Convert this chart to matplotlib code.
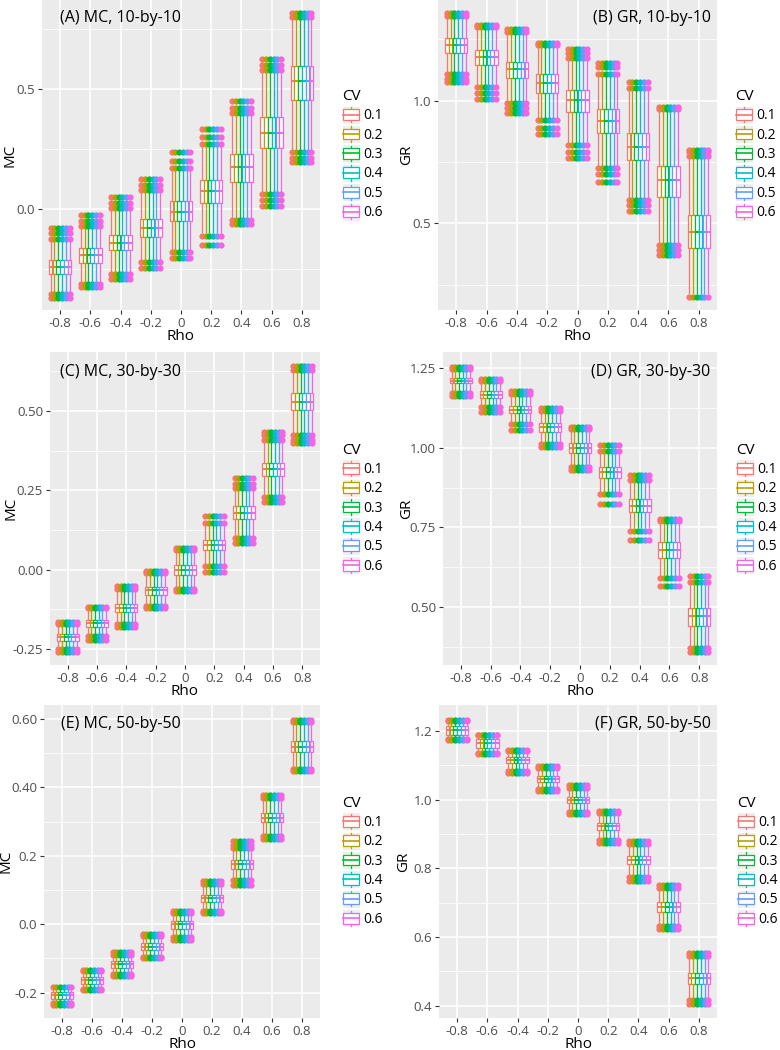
import numpy as np
import matplotlib
matplotlib.use("Agg")
import matplotlib.pyplot as plt
from matplotlib.patches import Rectangle
from matplotlib.lines import Line2D
from matplotlib.legend_handler import HandlerBase

plt.rcParams["font.family"] = ["Open Sans", "DejaVu Sans"]

rho_labels = ["-0.8", "-0.6", "-0.4", "-0.2", "0", "0.2", "0.4", "0.6", "0.8"]
cv_labels = ["0.1", "0.2", "0.3", "0.4", "0.5", "0.6"]
cv_colors = ["#F8766D", "#B79F00", "#00BA38", "#00BFC4", "#619CFF", "#F564E3"]

# ---------------- (A) MC, 10-by-10 ----------------
mc10_q1 = [-0.272, -0.224, -0.171, -0.118, -0.050, 0.024, 0.114, 0.253, 0.455]
mc10_med = [-0.241, -0.192, -0.139, -0.079, -0.010, 0.074, 0.177, 0.319, 0.532]
mc10_q3 = [-0.213, -0.162, -0.106, -0.042, 0.033, 0.121, 0.230, 0.383, 0.597]
mc10_wlo = [-0.345, -0.300, -0.262, -0.206, -0.170, -0.095, -0.035, 0.075, 0.250]
mc10_whi = [-0.130, -0.078, 0.000, 0.070, 0.165, 0.265, 0.395, 0.575, 0.795]
mc10_hi = [[-0.125, -0.10, -0.08], [-0.07, -0.05, -0.025], [0.005, 0.025, 0.05],
           [0.078, 0.10, 0.125], [0.172, 0.20, 0.24], [0.27, 0.30, 0.335],
           [0.40, 0.42, 0.45], [0.58, 0.60, 0.625], [0.80, 0.815]]
mc10_lo = [[-0.352, -0.37], [-0.31, -0.325], [-0.27, -0.29], [-0.22, -0.245],
           [-0.18, -0.205], [-0.11, -0.15], [-0.045, -0.06], [0.065, 0.04, 0.015],
           [0.24, 0.215, 0.195]]

# ---------------- (B) GR, 10-by-10 ----------------
gr10_q1 = [1.193, 1.145, 1.091, 1.030, 0.955, 0.870, 0.758, 0.609, 0.398]
gr10_med = [1.227, 1.179, 1.128, 1.071, 1.003, 0.918, 0.813, 0.677, 0.466]
gr10_q3 = [1.254, 1.207, 1.159, 1.109, 1.043, 0.965, 0.867, 0.734, 0.534]
gr10_wlo = [1.120, 1.065, 1.000, 0.930, 0.830, 0.735, 0.605, 0.420, 0.215]
gr10_whi = [1.335, 1.290, 1.270, 1.215, 1.165, 1.100, 1.040, 0.955, 0.765]
gr10_hi = [[1.345, 1.356], [1.30, 1.31], [1.28, 1.29], [1.225, 1.235],
           [1.175, 1.195, 1.212], [1.11, 1.135, 1.155], [1.05, 1.075],
           [0.965, 0.975], [0.775, 0.79, 0.80]]
gr10_lo = [[1.11, 1.09, 1.075], [1.055, 1.03, 1.005], [0.99, 0.97, 0.95],
           [0.92, 0.89, 0.865], [0.82, 0.79, 0.765], [0.725, 0.70, 0.67],
           [0.595, 0.575, 0.55], [0.41, 0.39, 0.37], [0.20]]

# ---------------- (C) MC, 30-by-30 ----------------
mc30_q1 = [-0.223, -0.179, -0.134, -0.078, -0.015, 0.063, 0.161, 0.295, 0.503]
mc30_med = [-0.213, -0.168, -0.121, -0.065, 0.000, 0.079, 0.180, 0.317, 0.529]
mc30_q3 = [-0.202, -0.158, -0.109, -0.053, 0.014, 0.095, 0.200, 0.337, 0.556]
mc30_wlo = [-0.245, -0.205, -0.165, -0.110, -0.055, 0.018, 0.110, 0.232, 0.430]
mc30_whi = [-0.176, -0.128, -0.068, -0.014, 0.058, 0.142, 0.252, 0.400, 0.625]
mc30_hi = [[-0.17, -0.165], [-0.122, -0.116], [-0.062, -0.05], [-0.01, -0.003],
           [0.062, 0.068], [0.148, 0.17], [0.258, 0.27, 0.288],
           [0.41, 0.425, 0.435], [0.63, 0.642]]
mc30_lo = [[-0.25, -0.258], [-0.21, -0.22], [-0.17, -0.18], [-0.115, -0.122],
           [-0.06, -0.068], [0.012, -0.008], [0.10, 0.085], [0.228, 0.215],
           [0.425, 0.41, 0.40]]

# ---------------- (D) GR, 30-by-30 ----------------
gr30_q1 = [1.203, 1.156, 1.109, 1.051, 0.985, 0.905, 0.797, 0.654, 0.441]
gr30_med = [1.210, 1.166, 1.119, 1.065, 0.999, 0.923, 0.818, 0.680, 0.471]
gr30_q3 = [1.219, 1.177, 1.132, 1.077, 1.015, 0.939, 0.839, 0.703, 0.497]
gr30_wlo = [1.180, 1.132, 1.080, 1.018, 0.945, 0.862, 0.750, 0.600, 0.375]
gr30_whi = [1.242, 1.205, 1.165, 1.112, 1.055, 0.980, 0.890, 0.762, 0.570]
gr30_hi = [[1.247, 1.253], [1.21, 1.216], [1.17, 1.178], [1.117, 1.126],
           [1.06, 1.066], [0.99, 1.01], [0.90, 0.915], [0.77, 0.778],
           [0.578, 0.598]]
gr30_lo = [[1.172, 1.163], [1.128, 1.112], [1.075, 1.057], [1.012, 1.002],
           [0.94, 0.93], [0.855, 0.825], [0.74, 0.712], [0.59, 0.567],
           [0.37, 0.36]]

# ---------------- (E) MC, 50-by-50 ----------------
mc50_q1 = [-0.217, -0.175, -0.127, -0.075, -0.013, 0.066, 0.163, 0.298, 0.504]
mc50_med = [-0.207, -0.164, -0.117, -0.065, 0.000, 0.076, 0.175, 0.312, 0.519]
mc50_q3 = [-0.197, -0.153, -0.108, -0.054, 0.010, 0.087, 0.188, 0.326, 0.536]
mc50_wlo = [-0.228, -0.187, -0.141, -0.092, -0.032, 0.044, 0.132, 0.262, 0.460]
mc50_whi = [-0.186, -0.140, -0.093, -0.038, 0.030, 0.115, 0.218, 0.365, 0.585]
mc50_hi = [[-0.184], [-0.137, -0.133], [-0.09, -0.082], [-0.034, -0.028],
           [0.034, 0.04], [0.119, 0.126], [0.222, 0.232, 0.242],
           [0.37, 0.377], [0.59, 0.597]]
mc50_lo = [[-0.231, -0.235], [-0.19, -0.193], [-0.145, -0.15], [-0.096, -0.1],
           [-0.036, -0.045], [0.04, 0.034], [0.128, 0.116], [0.257, 0.248],
           [0.455, 0.447]]

# ---------------- (F) GR, 50-by-50 ----------------
gr50_q1 = [1.188, 1.152, 1.106, 1.052, 0.989, 0.912, 0.813, 0.674, 0.463]
gr50_med = [1.203, 1.164, 1.116, 1.061, 0.999, 0.923, 0.824, 0.688, 0.480]
gr50_q3 = [1.215, 1.176, 1.125, 1.069, 1.009, 0.933, 0.836, 0.703, 0.494]
gr50_wlo = [1.180, 1.140, 1.090, 1.033, 0.968, 0.890, 0.782, 0.640, 0.420]
gr50_whi = [1.225, 1.185, 1.140, 1.090, 1.030, 0.958, 0.868, 0.738, 0.540]
gr50_hi = [[1.228, 1.233], [1.188, 1.19], [1.143, 1.146], [1.093, 1.097],
           [1.034, 1.044], [0.962, 0.966], [0.872, 0.879], [0.742, 0.751],
           [0.545, 0.553]]
gr50_lo = [[1.178, 1.175], [1.136, 1.133], [1.085, 1.079], [1.03, 1.025],
           [0.964, 0.959], [0.884, 0.873], [0.776, 0.763], [0.632, 0.622],
           [0.415, 0.404]]


class BoxKey(HandlerBase):
    # ggplot-like boxplot legend key
    def create_artists(self, legend, orig_handle, xdescent, ydescent,
                       width, height, fontsize, trans):
        c = orig_handle.get_color()
        x0, y0 = -xdescent, -ydescent
        bg = Rectangle((x0, y0), width, height, facecolor="#EFEFEF",
                       edgecolor="white", lw=0.8, transform=trans)
        vl = Line2D([x0 + width / 2] * 2, [y0 + 1, y0 + height - 1],
                    color=c, lw=0.9, transform=trans)
        bx = Rectangle((x0 + width * 0.08, y0 + height * 0.2), width * 0.84,
                       height * 0.6, facecolor="white", edgecolor=c, lw=0.9,
                       transform=trans)
        md = Line2D([x0 + width * 0.08, x0 + width * 0.92], [y0 + height / 2] * 2,
                    color=c, lw=1.2, transform=trans)
        return [bg, vl, bx, md]


fig = plt.figure(figsize=(7.8, 10.5), dpi=100)
W, H = 780.0, 1050.0


def add_ax(x0, x1, y0, y1):
    return fig.add_axes([x0 / W, 1 - y1 / H, (x1 - x0) / W, (y1 - y0) / H])


def draw_panel(ax, q1, med, q3, wlo, whi, out_hi, out_lo, ylim, yticks,
               yticklabels, minor, ylabel, label_x, leg_gap, title, tx, ty, right):
    ax.set_facecolor("#EBEBEB")
    pos0 = np.arange(1, len(rho_labels) + 1)
    for j, col in enumerate(cv_colors):
        stats = []
        for i in range(len(rho_labels)):
            stats.append(dict(med=med[i], q1=q1[i], q3=q3[i],
                              whislo=wlo[i], whishi=whi[i],
                              fliers=out_lo[i] + out_hi[i]))
        ax.bxp(stats, positions=pos0 + (j - 2.5) * 0.125, widths=0.118,
               patch_artist=True, showcaps=False, manage_ticks=False,
               boxprops=dict(facecolor="white", edgecolor=col, linewidth=0.9),
               whiskerprops=dict(color=col, linewidth=0.9),
               medianprops=dict(color=col, linewidth=1.4),
               flierprops=dict(marker="o", markerfacecolor=col,
                               markeredgecolor=col, markersize=4.5,
                               markeredgewidth=0))
    ax.set_xlim(0.4, 9.6)
    ax.set_ylim(*ylim)
    ax.set_xticks(pos0)
    ax.set_xticklabels(rho_labels)
    ax.set_yticks(yticks)
    ax.set_yticklabels(yticklabels)
    ax.set_yticks(minor, minor=True)
    ax.grid(which="major", color="white", lw=1.1)
    ax.grid(which="minor", axis="y", color="white", lw=0.55)
    ax.set_axisbelow(True)
    for s in ax.spines.values():
        s.set_visible(False)
    ax.tick_params(which="major", length=3, width=0.8, color="#333333",
                   labelcolor="#4D4D4D", labelsize=9.5, pad=2)
    ax.tick_params(which="minor", length=0)
    ax.set_xlabel("Rho", fontsize=11, labelpad=-1)
    ax.set_ylabel(ylabel, fontsize=11)
    bb = ax.get_position()
    ax.yaxis.set_label_coords((label_x / W - bb.x0) / bb.width, 0.5)
    ax.text(tx, ty, title, transform=ax.transAxes, fontsize=11.5,
            ha="right" if right else "left", va="center")
    handles = [Line2D([], [], color=c) for c in cv_colors]
    ax.legend(handles, cv_labels, title="CV", loc="center left",
              bbox_to_anchor=(1.0 + leg_gap / (bb.width * W), 0.5), frameon=False,
              handler_map={Line2D: BoxKey()}, handlelength=1.3,
              handleheight=1.62, labelspacing=0.1, handletextpad=0.2,
              borderpad=0, borderaxespad=0, fontsize=10,
              title_fontsize=11, alignment="left")


axA = add_ax(42, 320, 0, 310)
axB = add_ax(438, 717, 0, 310)
axC = add_ax(50, 320, 352, 665)
axD = add_ax(443, 717, 352, 665)
axE = add_ax(44, 320, 705, 1018)
axF = add_ax(439, 717, 705, 1018)

draw_panel(axA, mc10_q1, mc10_med, mc10_q3, mc10_wlo, mc10_whi, mc10_hi, mc10_lo,
           (-0.42, 0.871), [0.0, 0.5], ["0.0", "0.5"], [-0.25, 0.25, 0.75],
           "MC", 18, 22, "(A) MC, 10-by-10", 0.065, 0.942, False)
draw_panel(axB, gr10_q1, gr10_med, gr10_q3, gr10_wlo, gr10_whi, gr10_hi, gr10_lo,
           (0.147, 1.41), [0.5, 1.0], ["0.5", "1.0"], [0.25, 0.75, 1.25],
           "GR", 414, 18, "(B) GR, 10-by-10", 0.977, 0.942, True)
draw_panel(axC, mc30_q1, mc30_med, mc30_q3, mc30_wlo, mc30_whi, mc30_hi, mc30_lo,
           (-0.30, 0.686), [-0.25, 0.0, 0.25, 0.5], ["-0.25", "0.00", "0.25", "0.50"],
           [-0.125, 0.125, 0.375, 0.625],
           "MC", 18, 22, "(C) MC, 30-by-30", 0.038, 0.937, False)
draw_panel(axD, gr30_q1, gr30_med, gr30_q3, gr30_wlo, gr30_whi, gr30_hi, gr30_lo,
           (0.318, 1.301), [0.5, 0.75, 1.0, 1.25], ["0.50", "0.75", "1.00", "1.25"],
           [0.375, 0.625, 0.875, 1.125],
           "GR", 414, 19, "(D) GR, 30-by-30", 0.977, 0.937, True)
draw_panel(axE, mc50_q1, mc50_med, mc50_q3, mc50_wlo, mc50_whi, mc50_hi, mc50_lo,
           (-0.274, 0.641), [-0.2, 0.0, 0.2, 0.4, 0.6], ["-0.2", "0.0", "0.2", "0.40", "0.60"],
           [-0.1, 0.1, 0.3, 0.5],
           "MC", 14, 22, "(E) MC, 50-by-50", 0.062, 0.939, False)
draw_panel(axF, gr50_q1, gr50_med, gr50_q3, gr50_wlo, gr50_whi, gr50_hi, gr50_lo,
           (0.364, 1.276), [0.4, 0.6, 0.8, 1.0, 1.2], ["0.4", "0.6", "0.8", "1.0", "1.2"],
           [0.5, 0.7, 0.9, 1.1],
           "GR", 411, 20, "(F) GR, 50-by-50", 0.977, 0.94, True)

fig.savefig("out.png", dpi=100, facecolor="white")
